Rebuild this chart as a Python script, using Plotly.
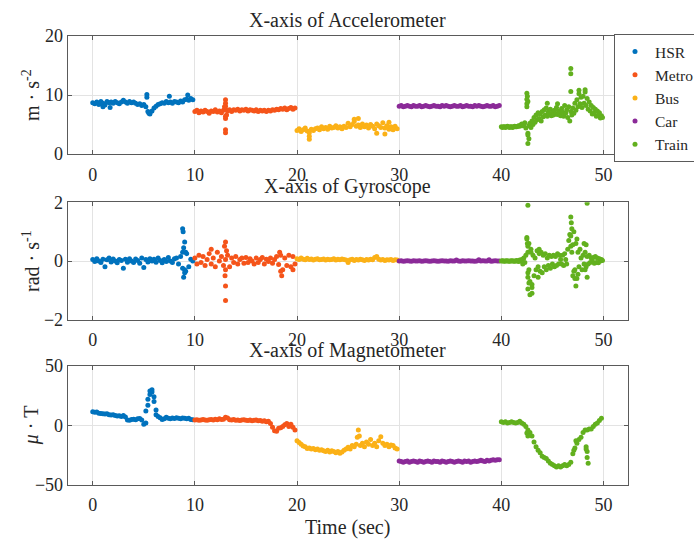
import plotly.graph_objects as go

# ---------------- data ----------------
modes = ["HSR", "Metro", "Bus", "Car", "Train"]
colors = ["#0072BD", "#F5541A", "#FBB117", "#8B2A98", "#62B01E"]
offsets = [0, 10, 20, 30, 40]
t50 = [round(0.2 * i, 1) for i in range(50)]
t100 = [round(0.1 * i, 1) for i in range(100)]

# Accelerometer X (m/s^2)
acc_hsr = [8.7, 8.5, 8.8, 8.4, 8.9, 8.6, 8.3, 8.9, 8.7, 8.8, 8.6, 8.9, 8.7, 8.5, 8.8, 9.1, 8.8, 8.6, 8.9, 8.7,
           8.8, 8.6, 8.4, 8.5, 8.2, 8.4, 8.0, 7.2, 6.8, 7.3, 7.8, 8.1, 8.4, 8.5, 8.7, 8.6, 8.9, 8.7, 8.8, 8.6,
           8.9, 8.8, 8.7, 9.0, 8.8, 9.2, 9.3, 9.1, 9.4, 9.2]
acc_hsr_xt = [5.3, 5.3, 7.5, 9.3, 1.0, 1.7, 5.5, 5.6]
acc_hsr_xv = [10.1, 9.6, 9.8, 10.0, 8.0, 7.9, 6.9, 7.0]
acc_metro = [7.2, 7.4, 7.0, 7.3, 7.1, 7.4, 7.2, 6.9, 7.3, 7.2, 7.5, 7.1, 7.3, 7.0, 7.4, 7.6, 7.3, 7.5, 7.2, 7.5,
             7.4, 7.6, 7.3, 7.5, 7.4, 7.6, 7.3, 7.5, 7.4, 7.3, 7.5, 7.2, 7.4, 7.3, 7.4, 7.2, 7.4, 7.3, 7.5, 7.4,
             7.6, 7.5, 7.7, 7.6, 7.8, 7.5, 7.7, 7.9, 7.6, 7.8]
acc_metro_xt = [13.0, 13.0, 13.0, 13.0, 13.0, 13.0, 13.0, 12.9, 13.1]
acc_metro_xv = [9.2, 8.6, 8.1, 6.4, 6.0, 4.1, 3.6, 8.0, 6.6]
acc_bus = [4.0, 4.3, 3.8, 4.1, 4.4, 3.9, 3.6, 4.2, 4.0, 4.3, 4.4, 4.1, 4.6, 4.3, 4.5, 4.2, 4.7, 4.4, 4.5, 4.8,
           4.4, 4.6, 4.3, 4.7, 4.5, 5.2, 4.6, 5.0, 5.5, 4.7, 4.9, 4.5, 5.1, 4.6, 4.9, 4.4, 5.0, 4.7, 4.3, 5.1,
           4.8, 4.5, 5.3, 4.4, 4.8, 4.2, 4.6, 4.1, 4.7, 4.3]
acc_bus_xt = [21.2, 21.2, 25.6, 26.0, 27.8, 28.6, 29.0]
acc_bus_xv = [2.5, 3.0, 5.9, 6.0, 3.5, 3.4, 5.4]
acc_car = [8.1, 8.2, 8.0, 8.1, 8.2, 8.1, 8.0, 8.2, 8.1, 8.1, 8.2, 8.0, 8.1, 8.2, 8.1, 8.0, 8.1, 8.2, 8.1, 8.1,
           8.0, 8.2, 8.1, 8.2, 8.1, 8.0, 8.1, 8.2, 8.1, 8.1, 8.2, 8.0, 8.1, 8.2, 8.1, 8.1, 8.0, 8.2, 8.1, 8.2,
           8.1, 8.0, 8.1, 8.2, 8.1, 8.1, 8.2, 8.0, 8.1, 8.2]
acc_car_xt = []
acc_car_xv = []
acc_train = [4.6, 4.5, 4.6, 4.6, 4.5, 4.6, 4.7, 4.6, 4.5, 4.6, 4.6, 4.5, 4.6, 4.7, 4.6, 4.6, 4.7,
             4.8, 4.7, 4.9, 5.1, 4.8, 5.0, 5.3, 4.4,
             8.5, 3.5, 4.8, 5.2, 4.5,
             5.6, 5.0, 6.2, 5.4, 6.6, 5.8, 7.0, 6.0, 6.8, 5.6,
             7.2, 6.3, 7.5, 6.6, 7.8, 6.4, 7.1, 6.8, 7.6, 6.5,
             7.0, 6.6, 7.4, 6.8, 7.9, 6.7, 7.3, 7.0, 6.5, 7.7,
             7.1, 6.4, 8.2, 6.9, 7.5, 6.2, 8.0, 5.6, 7.2, 6.6,
             7.8, 6.9, 8.6, 7.4, 9.2, 8.0, 10.2, 8.5, 9.6, 7.9,
             9.8, 8.6, 10.5, 8.2, 9.4, 7.6, 8.8, 7.3, 8.2, 6.8,
             7.9, 7.0, 7.6, 6.4, 7.3, 6.6, 7.0, 6.1, 6.5, 6.2]
acc_train_xt = [42.5, 42.55, 42.5, 42.6, 42.5, 42.6, 42.7, 42.6, 46.8, 46.8, 46.8, 47.6, 48.2, 44.5, 45.5]
acc_train_xv = [10.3, 9.8, 9.3, 8.9, 8.0, 3.2, 2.6, 1.8, 14.5, 13.6, 10.6, 10.8, 10.9, 8.6, 8.5]

# Gyroscope X (rad/s)
gyr_hsr = [0.05, -0.02, 0.08, 0.0, -0.05, 0.06, -0.2, 0.04, 0.1, -0.03, 0.07, 0.0, -0.06, 0.05, 0.02, -0.25,
           0.06, -0.04, 0.08, 0.0, -0.05, 0.07, 0.02, -0.08, 0.1, -0.22, 0.05, -0.03, 0.08, 0.0, 0.06, -0.04,
           0.1, 0.02, -0.06, 0.05, -0.02, 0.12, 0.0, -0.05, 0.08, 0.1, -0.1, 0.15, 0.3, -0.3, 0.25, -0.2, 0.06, 0.0]
gyr_hsr_xt = [8.8, 8.85, 9.0, 8.9, 9.1, 9.0, 8.9, 9.1, 8.8]
gyr_hsr_xv = [1.1, 1.0, 0.65, 0.45, 0.3, -0.4, -0.55, -0.35, -0.25]
gyr_metro = [0.1, -0.1, 0.2, -0.05, 0.15, -0.15, 0.05, 0.25, -0.1, 0.1, -0.2, 0.3, 0.0, 0.15, -0.15, 0.05,
             0.2, -0.2, 0.1, -0.05, 0.15, -0.1, 0.05, 0.1, -0.08, 0.12, -0.05, 0.08, 0.0, -0.1, 0.1, -0.05,
             0.05, 0.12, -0.1, 0.06, -0.02, 0.1, -0.08, 0.05, 0.15, -0.12, 0.2, -0.3, 0.1, -0.15, 0.2, -0.2, 0.15, -0.1]
gyr_metro_xt = [11.6, 13.0, 12.9, 13.1, 13.0, 12.95, 13.0, 13.0, 18.4, 18.5, 19.6, 18.3]
gyr_metro_xv = [0.4, 0.65, 0.5, 0.35, -0.3, -0.5, -0.85, -1.35, -0.35, -0.5, -0.3, 0.3]
gyr_bus = [0.08, 0.05, 0.1, 0.06, 0.04, 0.09, 0.05, 0.07, 0.03, 0.06, 0.08, 0.04, 0.05, 0.07, 0.03, 0.06,
           0.04, 0.05, 0.08, 0.03, 0.06, 0.04, 0.07, 0.05, 0.03, -0.05, 0.04, 0.06, 0.02, 0.05, 0.03, 0.06,
           0.04, 0.02, 0.05, 0.03, 0.06, 0.04, 0.12, 0.15, 0.06, 0.03, 0.05, 0.02, 0.04, 0.03, 0.05, 0.02, 0.04, 0.03]
gyr_bus_xt = []
gyr_bus_xv = []
gyr_car = [0.0, 0.01, -0.01, 0.0, 0.01, 0.0, -0.01, 0.01, 0.0, 0.0, 0.01, -0.01, 0.0, 0.01, 0.0, -0.01,
           0.0, 0.01, 0.0, -0.01, 0.0, 0.01, 0.0, 0.0, -0.01, 0.01, 0.0, 0.0, 0.03, 0.0, -0.01, 0.01,
           0.0, 0.0, 0.01, 0.0, 0.0, -0.01, 0.0, 0.04, 0.0, 0.01, 0.0, 0.0, 0.04, -0.01, 0.0, 0.01, 0.0, 0.0]
gyr_car_xt = []
gyr_car_xv = []
gyr_train = [0.0, 0.01, 0.0, -0.01, 0.0, 0.01, 0.0, 0.0, -0.01, 0.0, 0.01, 0.0, 0.0, -0.01, 0.0, 0.02, 0.0, -0.02, 0.03, 0.0,
             0.05, -0.1, 0.1, -0.05, 0.2, 0.8, -0.4, 0.6, -0.7, 0.3,
             -0.9, 0.2, -0.5, 0.1, -0.3, 0.35, -0.2, 0.25, -0.35, 0.3,
             -0.4, 0.2, -0.2, 0.25, -0.3, 0.1, -0.15, 0.2, -0.25, 0.15,
             -0.1, 0.2, -0.2, 0.15, -0.15, 0.25, -0.1, 0.2, 0.05, -0.1,
             0.2, -0.15, 0.25, 0.05, -0.1, 0.4, 0.7, 0.9, 0.5, 0.3,
             -0.5, 1.0, -0.3, 0.6, -0.6, 0.3, -0.2, 0.4, 0.1, -0.3,
             0.2, -0.1, 0.3, -0.2, 0.15, -0.1, 0.2, -0.05, 0.1, 0.0,
             0.12, -0.08, 0.15, -0.05, 0.1, -0.06, 0.08, 0.0, 0.05, 0.02]
gyr_train_xt = [42.6, 48.4, 42.5, 42.55, 42.6, 42.6, 42.7, 42.6, 42.7, 42.6, 42.8, 43.0, 43.0, 42.9, 43.6, 43.7,
                46.8, 46.85, 46.9, 46.8, 47.0, 47.1, 47.2, 47.3, 47.4, 47.5, 48.2, 48.3, 48.4, 48.1]
gyr_train_xv = [1.9, 1.97, 0.75, 0.6, 0.5, 0.3, -0.3, -0.55, -0.75, -0.95, -1.15, -1.1, -0.8, 0.4, -0.55, 0.4,
                1.5, 1.3, 1.1, 0.85, 0.55, -0.35, -0.6, -0.85, 0.75, -0.45, -0.3, 0.55, -0.55, 0.6]

# Magnetometer X (uT)
mag_hsr = [11.5, 11.0, 11.2, 10.2, 10.0, 9.8, 9.5, 9.8, 9.0, 8.8, 9.0, 8.2, 7.8, 8.0, 7.5, 8.2, 7.0, 4.5, 4.2, 5.0,
           5.2, 4.8, 5.5, 5.8, 4.5, 1.0, 12.0, 22.0, 29.0, 28.0, 20.0, 9.0, 7.5, 6.5, 5.0, 5.5, 6.8, 6.0, 5.5, 6.2,
           5.8, 6.5, 6.0, 5.5, 6.2, 6.0, 5.5, 6.0, 5.0, 4.8]
mag_hsr_xt = [5.2, 5.4, 5.6, 5.8, 6.0, 6.2]
mag_hsr_xv = [2.0, 17.0, 26.0, 30.0, 24.0, 13.0]
mag_metro = [4.5, 4.8, 4.2, 4.5, 5.0, 4.6, 4.3, 4.8, 5.0, 4.5, 5.2, 4.8, 5.5, 5.0, 5.2, 6.8, 6.2, 4.8, 4.5, 5.0,
             4.2, 4.6, 4.0, 4.5, 4.8, 4.2, 4.0, 4.5, 3.8, 4.2, 4.5, 3.8, 4.0, 3.5, 3.8, 3.0, 3.5, 1.5, -1.5, -4.5,
             -5.0, -2.5, -2.0, -1.0, 0.5, 1.5, -1.0, 1.0, -1.5, -4.0]
mag_metro_xt = []
mag_metro_xv = []
mag_bus = [-13, -14.5, -16, -17.5, -18, -19.5, -19, -20, -19.5, -20.5,
           -20, -21, -20.5, -21.5, -22, -21, -22.5, -21.5, -22, -23,
           -22, -23.5, -22.5, -21, -20, -18.5, -20, -17, -18, -16,
           -4, -17, -15, -18, -14, -16, -12, -17, -15, -18,
           -13, -9.5, -15, -17, -16, -18, -16.5, -17, -19, -20]
mag_bus_xt = [25.9, 26.1]
mag_bus_xv = [-10, -9]
mag_car = [-30, -30.5, -31, -30.5, -30, -31, -30.5, -30, -30.5, -31, -30, -30.5, -31, -30.5, -30, -30.5, -31, -30,
           -30.5, -30.5, -31, -30, -30.5, -31, -30.5, -30, -30.5, -31, -30.5, -30, -30.5, -31, -30, -30.5, -30,
           -31, -30.5, -30, -30.5, -30, -29.5, -30, -30.5, -29.5, -30, -29.5, -29, -29.5, -29, -29]
mag_car_xt = []
mag_car_xv = []
mag_train = [3, 2.5, 3, 2, 2.5, 3, 2.5, 2, 2.5, 3.5,
             2, 1, -1, -4, -6, -9, -14, -18, -21, -23,
             -26, -27, -28, -30, -32, -33, -34, -35, -34, -35,
             -34, -33, -34, -33, -31, -24, -19, -15, -12, -10,
             -6, -4, -4, -3, -3, -1, 1, 2, 4, 6]
mag_train_xt = [42.5, 42.6, 48.3, 48.4, 48.4, 48.5, 48.3, 47.1, 47.3]
mag_train_xv = [-6.5, -9, -18, -22, -27, -32, -20, -21, -13]

panels = [
    ("X-axis of Accelerometer", "m · s<sup>-2</sup>",
     [(acc_hsr, acc_hsr_xt, acc_hsr_xv), (acc_metro, acc_metro_xt, acc_metro_xv),
      (acc_bus, acc_bus_xt, acc_bus_xv), (acc_car, acc_car_xt, acc_car_xv),
      (acc_train, acc_train_xt, acc_train_xv)], [0, 20], [0, 10, 20]),
    ("X-axis of Gyroscope", "rad · s<sup>-1</sup>",
     [(gyr_hsr, gyr_hsr_xt, gyr_hsr_xv), (gyr_metro, gyr_metro_xt, gyr_metro_xv),
      (gyr_bus, gyr_bus_xt, gyr_bus_xv), (gyr_car, gyr_car_xt, gyr_car_xv),
      (gyr_train, gyr_train_xt, gyr_train_xv)], [-2, 2], [-2, 0, 2]),
    ("X-axis of Magnetometer", "<i>μ</i> · T",
     [(mag_hsr, mag_hsr_xt, mag_hsr_xv), (mag_metro, mag_metro_xt, mag_metro_xv),
      (mag_bus, mag_bus_xt, mag_bus_xv), (mag_car, mag_car_xt, mag_car_xv),
      (mag_train, mag_train_xt, mag_train_xv)], [-50, 50], [-50, 0, 50]),
]
x_ticks = [0, 10, 20, 30, 40, 50]

# ---------------- figure ----------------
W, H = 694, 542
FONT = "Liberation Serif"
TXT = "#262626"
AXC = "#5a5a5a"
x0_px, x1_px = 67.7, 628.0
rows_px = [(36.0, 154.0), (202.3, 319.7), (366.0, 484.7)]

fig = go.Figure()
layout = dict(
    width=W, height=H, margin=dict(l=0, r=0, t=0, b=0, autoexpand=False),
    paper_bgcolor="white", plot_bgcolor="white",
    font=dict(family=FONT, size=18, color=TXT),
    showlegend=True,
    legend=dict(x=614 / W, xanchor="left", y=1 - 34 / H, yanchor="top",
                bgcolor="white", bordercolor=AXC, borderwidth=1,
                font=dict(family=FONT, size=15.5, color=TXT), tracegroupgap=0,
                itemsizing="trace"),
)
annotations = []
for r, (title, ylab, series, yr, yt) in enumerate(panels):
    k = "" if r == 0 else str(r + 1)
    top, bot = rows_px[r]
    for m, (vals, xt, xv) in enumerate(series):
        grid = t100 if len(vals) == 100 else t50
        xs = [offsets[m] + t for t in grid] + list(xt)
        ys = list(vals) + list(xv)
        fig.add_trace(go.Scatter(
            x=xs, y=ys, mode="markers", name=modes[m],
            marker=dict(color=colors[m], size=5, line=dict(width=0)),
            xaxis="x" + k, yaxis="y" + k, legendgroup=modes[m], showlegend=(r == 0)))
    axis_common = dict(showline=True, mirror="ticks", linecolor=AXC, linewidth=1,
                       ticks="inside", ticklen=4, tickcolor=AXC,
                       showgrid=True, gridcolor="#e3e3e3", gridwidth=1, zeroline=False,
                       tickfont=dict(family=FONT, size=18, color=TXT))
    layout["xaxis" + k] = dict(axis_common, domain=[x0_px / W, x1_px / W], range=[-2.45, 52.4],
                               tickmode="array", tickvals=x_ticks, anchor="y" + k,
                               ticklabelstandoff=4)
    layout["yaxis" + k] = dict(axis_common, domain=[1 - bot / H, 1 - top / H], range=yr,
                               tickmode="array", tickvals=yt, anchor="x" + k)
    annotations.append(dict(text=title, x=(x0_px + x1_px) / 2 / W, y=1 - (top - 16) / H,
                            xref="paper", yref="paper", showarrow=False,
                            font=dict(family=FONT, size=20, color=TXT),
                            xanchor="center", yanchor="middle"))
    annotations.append(dict(text=ylab, x=31 / W, y=1 - (top + bot) / 2 / H, textangle=-90,
                            xref="paper", yref="paper", showarrow=False,
                            font=dict(family=FONT, size=20, color=TXT),
                            xanchor="center", yanchor="middle"))
annotations.append(dict(text="Time (sec)", x=(x0_px + x1_px) / 2 / W, y=1 - 527 / H,
                        xref="paper", yref="paper", showarrow=False,
                        font=dict(family=FONT, size=20, color=TXT),
                        xanchor="center", yanchor="middle"))
layout["annotations"] = annotations
fig.update_layout(**layout)
fig.write_html("out.html")
